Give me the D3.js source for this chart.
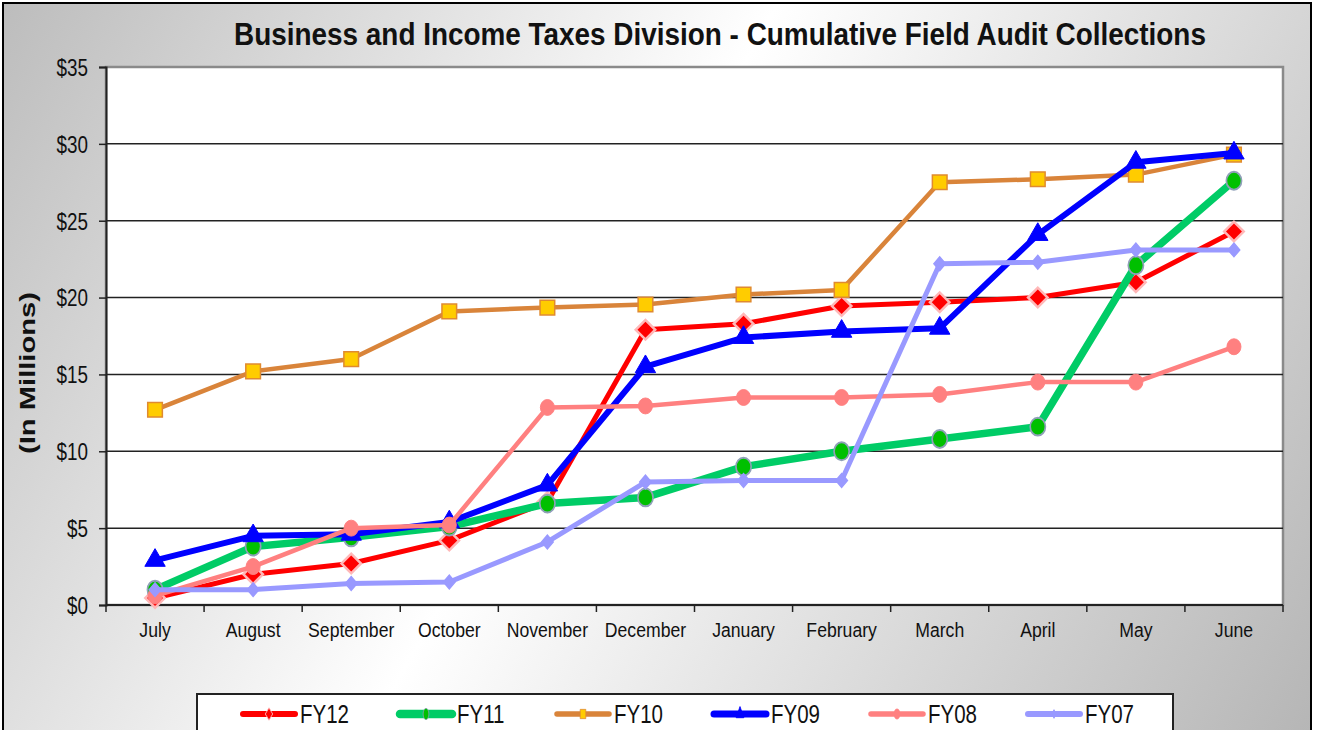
<!DOCTYPE html>
<meta charset="utf-8">
<title>Cumulative Field Audit Collections</title>
<style>
body { margin: 0; background: #fff; }
text { font-family: "Liberation Sans", Arial, sans-serif; }
</style>
<body>
<svg width="1317" height="730"></svg>
<script src="https://d3js.org/d3.v7.min.js"></script>
<script>

// months along the x axis
var months = ["July", "August", "September", "October", "November", "December",
              "January", "February", "March", "April", "May", "June"];

// cumulative collections, $ millions
var fy12 = [0.45, 2.0, 2.7, 4.2, 6.7, 17.9, 18.3, 19.45, 19.7, 20.0, 21.0, 24.3];
var fy11 = [1.0, 3.8, 4.4, 5.1, 6.6, 7.0, 9.0, 10.0, 10.8, 11.6, 22.1, 27.6];
var fy10 = [12.7, 15.2, 16.0, 19.1, 19.35, 19.55, 20.2, 20.5, 27.5, 27.7, 28.0, 29.3];
var fy09 = [2.9, 4.5, 4.6, 5.4, 7.8, 15.5, 17.4, 17.8, 18.0, 24.1, 28.8, 29.4];
var fy08 = [0.6, 2.5, 5.0, 5.2, 12.85, 12.95, 13.5, 13.5, 13.7, 14.5, 14.5, 16.8];
var fy07 = [1.0, 1.0, 1.4, 1.5, 4.1, 8.0, 8.1, 8.1, 22.2, 22.3, 23.1, 23.1];

var yTicks = [0, 5, 10, 15, 20, 25, 30, 35];

// series styles (drawn in this order)
var series = [
  {name: "FY12", values: fy12, line: "#ff0000", width: 5, sym: d3.symbolSquare, size: 190, rot: 45, sx: 1, fill: "#ff0000", stroke: "#ffb8b8", sw: 2.5},
  {name: "FY11", values: fy11, line: "#00cc66", width: 7.5, sym: d3.symbolCircle, size: 250, rot: 0, sx: 0.85, fill: "#00c000", stroke: "#8fa0b8", sw: 2},
  {name: "FY10", values: fy10, line: "#d9843a", width: 4.5, sym: d3.symbolSquare, size: 215, rot: 0, sx: 1, fill: "#ffcc00", stroke: "#e08a30", sw: 1.5},
  {name: "FY09", values: fy09, line: "#0000ff", width: 6, sym: d3.symbolTriangle, size: 180, rot: 0, sx: 1, fill: "#0000ff", stroke: "#0000ff", sw: 1},
  {name: "FY08", values: fy08, line: "#ff8080", width: 4.5, sym: d3.symbolCircle, size: 200, rot: 0, sx: 0.88, fill: "#ff8080", stroke: "#ff8080", sw: 1},
  {name: "FY07", values: fy07, line: "#9999ff", width: 5, sym: d3.symbolSquare, size: 95, rot: 45, sx: 0.85, fill: "#9999ff", stroke: "#9999ff", sw: 1.5}
];

var narrow = 0.84; // fake Arial Narrow by squeezing text horizontally

var svg = d3.select("svg");

// background gradient
var defs = svg.append("defs");
var grad = defs.append("linearGradient").attr("id", "bg")
    .attr("gradientUnits", "userSpaceOnUse")
    .attr("x1", 0).attr("y1", 0).attr("x2", 1317).attr("y2", 740);
grad.append("stop").attr("offset", "0%").attr("stop-color", "#bcbcbc");
grad.append("stop").attr("offset", "45%").attr("stop-color", "#ffffff");
grad.append("stop").attr("offset", "100%").attr("stop-color", "#b5b5b5");

svg.append("rect")
    .attr("x", 3).attr("y", 3).attr("width", 1308).attr("height", 740)
    .attr("fill", "url(#bg)")
    .attr("stroke", "#000").attr("stroke-width", 2);

var pLeft = 106, pRight = 1283, pTop = 67, pBottom = 605;

var x = d3.scaleBand().domain(months).range([pLeft, pRight]);
var y = d3.scaleLinear().domain([0, 35]).range([pBottom, pTop]);

function cx(i) { return x(months[i]) + x.bandwidth() / 2; }

// plot area
svg.append("rect")
    .attr("x", pLeft).attr("y", pTop)
    .attr("width", pRight - pLeft).attr("height", pBottom - pTop)
    .attr("fill", "#fff")
    .attr("stroke", "#8a8a8a").attr("stroke-width", 2.5);

// gridlines
svg.append("g")
  .selectAll("line")
  .data(yTicks.slice(1, -1))
  .enter().append("line")
    .attr("x1", pLeft).attr("x2", pRight)
    .attr("y1", function(d) { return y(d); })
    .attr("y2", function(d) { return y(d); })
    .attr("stroke", "#222").attr("stroke-width", 1.5);

// y axis
var yAxis = svg.append("g")
    .attr("transform", "translate(" + pLeft + ",0)")
    .call(d3.axisLeft(y).tickValues(yTicks).tickSize(7).tickPadding(0)
      .tickFormat(function(d) { return "$" + d; }));
yAxis.select(".domain").attr("stroke", "#222").attr("stroke-width", 2);
yAxis.selectAll(".tick line").attr("stroke", "#222").attr("stroke-width", 1.5);
yAxis.selectAll(".tick text")
    .attr("x", null).attr("dy", "0.36em")
    .attr("transform", "translate(-18,0) scale(0.82,1)")
    .attr("font-size", 23).attr("fill", "#111")
    .attr("font-family", "'Liberation Sans', Arial, sans-serif");

// x axis with ticks on the band edges
var xAxis = svg.append("g")
    .attr("transform", "translate(0," + pBottom + ")");
xAxis.append("line")
    .attr("x1", pLeft).attr("x2", pRight)
    .attr("stroke", "#222").attr("stroke-width", 2);
xAxis.selectAll(".edge")
  .data(months.concat(["end"]))
  .enter().append("line")
    .attr("class", "edge")
    .attr("x1", function(d, i) { return i < months.length ? x(d) : pRight; })
    .attr("x2", function(d, i) { return i < months.length ? x(d) : pRight; })
    .attr("y1", 0).attr("y2", 7)
    .attr("stroke", "#222").attr("stroke-width", 1.5);
xAxis.selectAll(".lab")
  .data(months)
  .enter().append("text")
    .attr("class", "lab")
    .attr("transform", function(d, i) {
      return "translate(" + cx(i) + ",32) scale(" + narrow + ",1)";
    })
    .attr("text-anchor", "middle")
    .attr("font-size", 21).attr("fill", "#111")
    .text(function(d) { return d; });

// lines and markers
var line = d3.line()
    .x(function(d, i) { return cx(i); })
    .y(function(d) { return y(d); });

series.forEach(function(s) {
  var g = svg.append("g");
  g.append("path")
      .datum(s.values)
      .attr("d", line)
      .attr("fill", "none")
      .attr("stroke", s.line)
      .attr("stroke-width", s.width)
      .attr("stroke-linejoin", "round");
  g.selectAll("path.m")
    .data(s.values)
    .enter().append("path")
      .attr("class", "m")
      .attr("d", d3.symbol().type(s.sym).size(s.size))
      .attr("transform", function(d, i) {
        return "translate(" + cx(i) + "," + y(d) + ") scale(" + s.sx + ",1) rotate(" + s.rot + ")";
      })
      .attr("fill", s.fill)
      .attr("stroke", s.stroke)
      .attr("stroke-width", s.sw);
});

// title
svg.append("text")
    .attr("transform", "translate(720,45) scale(0.9,1)")
    .attr("text-anchor", "middle")
    .attr("font-weight", "bold")
    .attr("font-size", 31).attr("fill", "#111")
    .text("Business and Income Taxes Division - Cumulative Field Audit Collections");

// y axis title
svg.append("text")
    .attr("transform", "translate(35,373) rotate(-90)")
    .attr("text-anchor", "middle")
    .attr("font-weight", "bold")
    .attr("font-size", 22).attr("fill", "#111")
    .attr("textLength", 162).attr("lengthAdjust", "spacingAndGlyphs")
    .text("(In Millions)");

// legend
var legend = svg.append("g");
legend.append("rect")
    .attr("x", 197).attr("y", 694).attr("width", 976).attr("height", 60)
    .attr("fill", "#fff").attr("stroke", "#222").attr("stroke-width", 2);

var item = legend.selectAll(".item")
  .data(series)
  .enter().append("g")
    .attr("class", "item")
    .attr("transform", function(d, i) { return "translate(" + (243 + i * 157) + ",714)"; });
item.append("line")
    .attr("x1", 0).attr("x2", 52)
    .attr("stroke", function(d) { return d.line; })
    .attr("stroke-width", function(d) { return d.width + 1; })
    .attr("stroke-linecap", "round");
item.append("path")
    .attr("d", function(d) { return d3.symbol().type(d.sym).size(d.size * 0.4)(); })
    .attr("transform", function(d) { return "translate(26,0) scale(" + (d.sx * 0.6) + ",1) rotate(" + d.rot + ")"; })
    .attr("fill", function(d) { return d.fill; })
    .attr("stroke", function(d) { return d.stroke; })
    .attr("stroke-width", 1);
item.append("text")
    .attr("transform", "translate(57,9) scale(0.82,1)")
    .attr("font-size", 25).attr("fill", "#111")
    .text(function(d) { return d.name; });

</script>
</body>
